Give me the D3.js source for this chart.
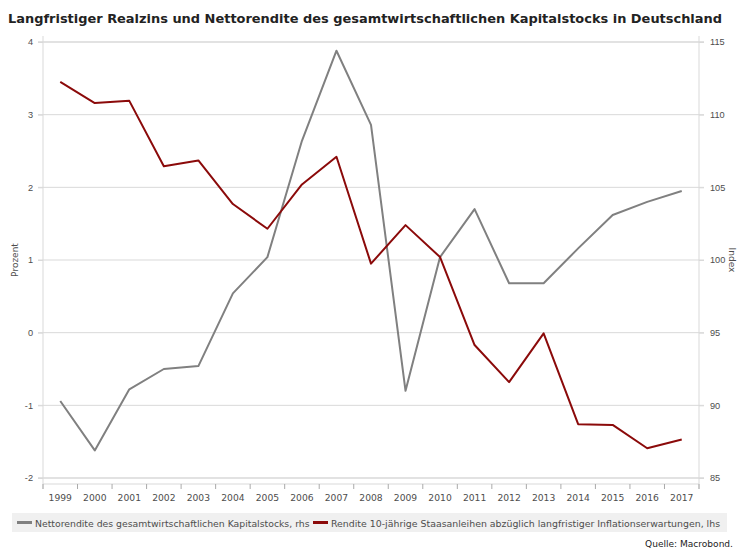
<!DOCTYPE html>
<html>
<head>
<meta charset="utf-8">
<script src="https://cdn.jsdelivr.net/npm/d3@7"></script>
<style>
  body { margin: 0; background: #fff; }
  svg { display: block; font-family: "DejaVu Sans", Verdana, sans-serif; }
</style>
</head>
<body>
<div id="chart"></div>
<script>
const years = d3.range(1999, 2018).map(String);

// Rendite 10-jährige Staatsanleihen abzüglich Inflationserwartungen (lhs, Prozent)
const realzins = [3.45, 3.16, 3.19, 2.29, 2.37, 1.77, 1.43, 2.04, 2.42, 0.95,
                  1.48, 1.04, -0.17, -0.68, -0.01, -1.26, -1.27, -1.59, -1.47];

// Nettorendite des gesamtwirtschaftlichen Kapitalstocks (rhs, Index)
const nettorendite = [90.3, 86.9, 91.1, 92.5, 92.7, 97.7, 100.2, 108.2, 114.4, 109.3,
                      91.0, 100.2, 103.5, 98.4, 98.4, 100.8, 103.1, 104.0, 104.75];

const leftTicks = [-2, -1, 0, 1, 2, 3, 4];
const rightTicks = [85, 90, 95, 100, 105, 110, 115];

const titleText = 'Langfristiger Realzins und Nettorendite des gesamtwirtschaftlichen Kapitalstocks in Deutschland';
const legendItems = [
    { label: 'Nettorendite des gesamtwirtschaftlichen Kapitalstocks, rhs', color: '#808080' },
    { label: 'Rendite 10-jährige Staasanleihen abzüglich langfristiger Inflationserwartungen, lhs', color: '#8b0a0a' }
];

const width = 737, height = 551;
const plot = { left: 43, right: 699, top: 42, bottom: 478 };
const gridColor = '#d9d9d9';
const textColor = '#4d4d4d';
const tickFont = 9.2;

const svg = d3.select('#chart').append('svg')
    .attr('width', width)
    .attr('height', height);

// shrink/grow a text node so it spans the wanted width
function fitText(sel, target) {
    const node = sel.node();
    const w = node.getComputedTextLength();
    const fs = parseFloat(sel.attr('font-size'));
    sel.attr('font-size', (fs * target / w).toFixed(2));
}

const x = d3.scaleBand().domain(years).range([plot.left, plot.right]);
const yL = d3.scaleLinear().domain([-2, 4]).range([plot.bottom, plot.top]);
const yR = d3.scaleLinear().domain([85, 115]).range([plot.bottom, plot.top]);

// title
const title = svg.append('text')
    .attr('x', 8).attr('y', 23)
    .attr('font-size', 13)
    .attr('font-weight', 'bold')
    .attr('fill', '#222')
    .text(titleText);
fitText(title, 714);

// grid lines
svg.append('g')
    .selectAll('line')
    .data(leftTicks)
    .join('line')
    .attr('x1', plot.left - 5).attr('x2', plot.right + 5)
    .attr('y1', d => yL(d)).attr('y2', d => yL(d))
    .attr('stroke', gridColor)
    .attr('stroke-width', d => (d === 4 || d === -2) ? 1.5 : 1);

// left axis (plain hyphen for negatives, like the original)
const gL = svg.append('g')
    .attr('transform', `translate(${plot.left},0)`)
    .call(d3.axisLeft(yL).tickValues(leftTicks).tickFormat(d => String(d)).tickSize(5).tickPadding(5));
gL.select('.domain').attr('stroke', gridColor).attr('d', `M0,${plot.top - 6}V${plot.bottom + 11}`);
gL.selectAll('.tick line').attr('stroke', gridColor);
gL.selectAll('.tick text').attr('fill', textColor).attr('font-size', tickFont).attr('font-family', null);

// right axis
const gR = svg.append('g')
    .attr('transform', `translate(${plot.right},0)`)
    .call(d3.axisRight(yR).tickValues(rightTicks).tickFormat(d => String(d)).tickSize(5).tickPadding(6));
gR.select('.domain').attr('stroke', gridColor).attr('d', `M0,${plot.top - 6}V${plot.bottom + 11}`);
gR.selectAll('.tick line').attr('stroke', gridColor);
gR.selectAll('.tick text').attr('fill', textColor).attr('font-size', tickFont).attr('font-family', null);

// bottom axis: ticks on band boundaries, labels in band centres
const axisY = plot.bottom + 6;
const gX = svg.append('g').attr('transform', `translate(0,${axisY})`);
gX.append('line')
    .attr('x1', plot.left).attr('x2', plot.right)
    .attr('stroke', gridColor);
gX.selectAll('.tk')
    .data(years.concat(['end']))
    .join('line')
    .attr('class', 'tk')
    .attr('x1', (d, i) => i < years.length ? x(d) : plot.right)
    .attr('x2', (d, i) => i < years.length ? x(d) : plot.right)
    .attr('y1', 0).attr('y2', 5)
    .attr('stroke', '#aaa');
gX.selectAll('.lbl')
    .data(years)
    .join('text')
    .attr('class', 'lbl')
    .attr('x', d => x(d) + x.bandwidth() / 2)
    .attr('y', 17)
    .attr('text-anchor', 'middle')
    .attr('font-size', tickFont)
    .attr('fill', textColor)
    .text(d => d);

// axis titles
svg.append('text')
    .attr('transform', `translate(18,${(plot.top + plot.bottom) / 2}) rotate(-90)`)
    .attr('text-anchor', 'middle')
    .attr('font-size', 9)
    .attr('fill', textColor)
    .text('Prozent');
svg.append('text')
    .attr('transform', `translate(729,${(plot.top + plot.bottom) / 2}) rotate(90)`)
    .attr('text-anchor', 'middle')
    .attr('font-size', 9)
    .attr('fill', textColor)
    .text('Index');

// lines
const cx = d => x(d) + x.bandwidth() / 2;
const lineR = d3.line().x((d, i) => cx(years[i])).y(d => yR(d));
const lineL = d3.line().x((d, i) => cx(years[i])).y(d => yL(d));

svg.append('path')
    .datum(nettorendite)
    .attr('d', lineR)
    .attr('fill', 'none')
    .attr('stroke', legendItems[0].color)
    .attr('stroke-width', 2)
    .attr('stroke-linejoin', 'round');

svg.append('path')
    .datum(realzins)
    .attr('d', lineL)
    .attr('fill', 'none')
    .attr('stroke', legendItems[1].color)
    .attr('stroke-width', 2)
    .attr('stroke-linejoin', 'round');

// legend
svg.append('rect')
    .attr('x', 12).attr('y', 513)
    .attr('width', 715).attr('height', 19)
    .attr('fill', '#f0f0f0');

const legendPos = [{ sx: 17, tx: 35, w: 275 }, { sx: 313, tx: 331, w: 390 }];
legendItems.forEach((item, i) => {
    const p = legendPos[i];
    svg.append('line')
        .attr('x1', p.sx).attr('x2', p.sx + 15)
        .attr('y1', 522.5).attr('y2', 522.5)
        .attr('stroke', item.color)
        .attr('stroke-width', 3);
    const t = svg.append('text')
        .attr('x', p.tx).attr('y', 526.5)
        .attr('font-size', 11)
        .attr('fill', textColor)
        .text(item.label);
    fitText(t, p.w);
});

// source
const src = svg.append('text')
    .attr('x', 733).attr('y', 547)
    .attr('text-anchor', 'end')
    .attr('font-size', 11)
    .attr('fill', '#222')
    .text('Quelle: Macrobond.');
fitText(src, 88);
</script>
</body>
</html>
